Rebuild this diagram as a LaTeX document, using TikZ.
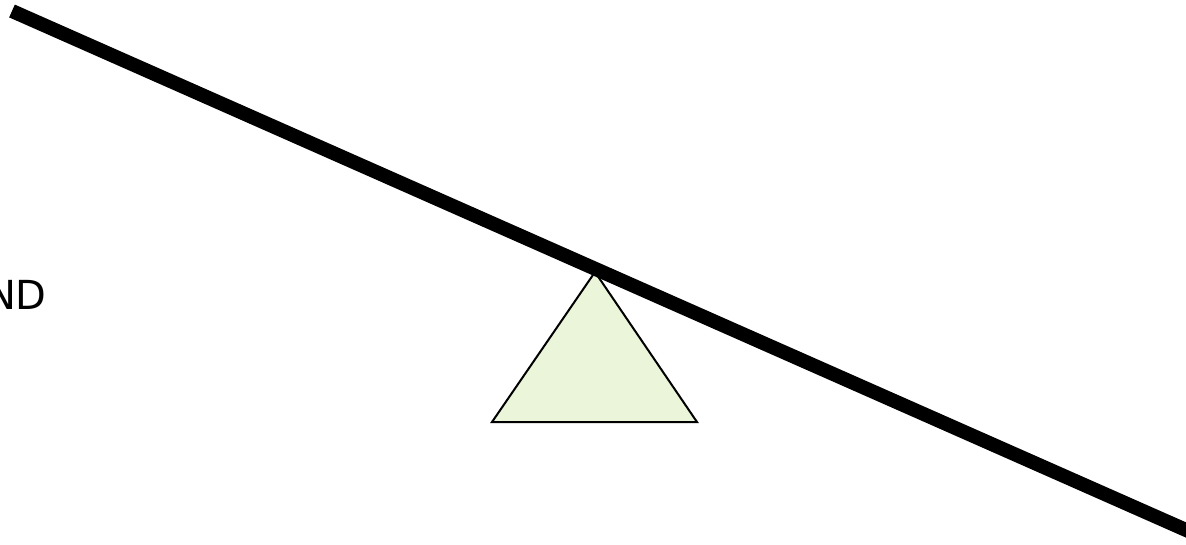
\documentclass[tikz,border=0pt]{standalone}
\usepackage{fontspec}
\setmainfont{DejaVu Sans}
\definecolor{fulcrumfill}{HTML}{EAF5D9}
\tikzset{
  beam/.style={line width=14pt, line cap=butt},
  fulcrum/.style={draw=black, line width=2pt, fill=fulcrumfill, line join=miter},
  lbl/.style={font=\fontsize{40}{48}\selectfont, inner sep=0pt, anchor=base east}
}
\begin{document}
\begin{tikzpicture}[x=1pt,y=-1pt]
\useasboundingbox (0,0) rectangle (1186,544);
\clip (0,0) rectangle (1186,544);
\coordinate (apex) at (595,272);
\coordinate (bl) at (492,422);
\coordinate (br) at (697,422);
\draw[fulcrum] (apex) -- (br) -- (bl) -- cycle;
\coordinate (beamstart) at (12,11);
\coordinate (beamend) at (1220,545);
\draw[beam] (beamstart) -- (beamend);
\node[lbl] (label) at (47,309) {ND};
\end{tikzpicture}
\end{document}
